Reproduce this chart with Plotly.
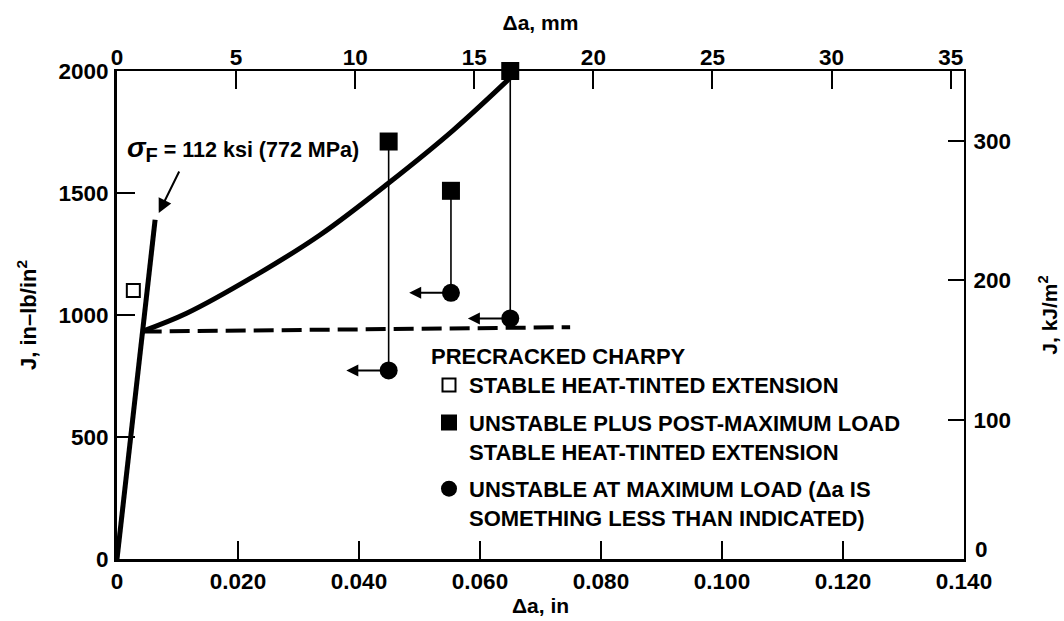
import plotly.graph_objects as go

# ---------------- data (inches, in-lb/in^2) ----------------
elastic_x = [0.0, 0.0063]
elastic_j = [0, 1390]

curve_x = [0.00408, 0.01152, 0.02253, 0.03355, 0.04485, 0.0556, 0.0655]
curve_j = [932, 1007, 1157, 1328, 1540, 1758, 1984]

dash_x = [0.00408, 0.0749]
dash_j = [932, 950]

open_sq_x = [0.0027]
open_sq_j = [1100]

spec_x = [0.0449, 0.0552, 0.0650]
filled_sq_j = [1711, 1509, 2000]
circle_j = [773, 1091, 986]
arrow_tip_x = [0.0379, 0.0483, 0.0580]

x_ticks = [0, 0.02, 0.04, 0.06, 0.08, 0.10, 0.12, 0.14]
x_ticktext = ["0", "0.020", "0.040", "0.060", "0.080", "0.100", "0.120", "0.140"]
y_ticks = [0, 500, 1000, 1500, 2000]
mm_ticks = [0, 5, 10, 15, 20, 25, 30, 35]
kj_ticks = [100, 200, 300]       # the "0" label of this axis sits raised at the corner
kj_zero_label = "0"

IN_TO_MM_AXIS = 254.0          # top axis scale factor
J_TO_KJ = 0.175127             # in-lb/in^2 -> kJ/m^2

sigma_tail = (0.0104, 1594)
sigma_tip = (0.0069, 1418)

FONT = "Liberation Sans, Arial, Helvetica, sans-serif"
BLACK = "#000000"
TICKFONT = dict(family=FONT, size=22.5, color=BLACK, weight="bold")
TITLEFONT = dict(family=FONT, size=21, color=BLACK, weight="bold")

fig = go.Figure()

# dashed line
fig.add_trace(go.Scatter(x=dash_x, y=dash_j, mode="lines",
                         line=dict(color=BLACK, width=4, dash="20px,8px"),
                         showlegend=False, hoverinfo="skip"))
# elastic line
fig.add_trace(go.Scatter(x=elastic_x, y=elastic_j, mode="lines",
                         line=dict(color=BLACK, width=5),
                         showlegend=False, hoverinfo="skip"))
# R-curve
fig.add_trace(go.Scatter(x=curve_x, y=curve_j, mode="lines",
                         line=dict(color=BLACK, width=5, shape="spline", smoothing=1.0),
                         showlegend=False, hoverinfo="skip"))
# vertical connectors
vx, vy = [], []
for x, a, b in zip(spec_x, filled_sq_j, circle_j):
    vx += [x, x, None]
    vy += [a, b, None]
fig.add_trace(go.Scatter(x=vx, y=vy, mode="lines",
                         line=dict(color=BLACK, width=1.6),
                         showlegend=False, hoverinfo="skip", cliponaxis=False))

# markers
fig.add_trace(go.Scatter(x=open_sq_x, y=open_sq_j, mode="markers",
                         name="STABLE HEAT-TINTED EXTENSION",
                         marker=dict(symbol="square-open", size=13, color=BLACK,
                                     line=dict(width=2, color=BLACK)),
                         legendgroup="a", cliponaxis=False))
fig.add_trace(go.Scatter(x=spec_x, y=filled_sq_j, mode="markers",
                         name="UNSTABLE PLUS POST-MAXIMUM LOAD<br>STABLE HEAT-TINTED EXTENSION",
                         marker=dict(symbol="square", size=18, color=BLACK),
                         legendgroup="b", cliponaxis=False))
fig.add_trace(go.Scatter(x=spec_x, y=circle_j, mode="markers",
                         name="UNSTABLE AT MAXIMUM LOAD (\u0394a IS<br>SOMETHING LESS THAN INDICATED)",
                         marker=dict(symbol="circle", size=18, color=BLACK),
                         legendgroup="c", cliponaxis=False))

# same specimens in secondary units (invisible) so the top/right axes render
fig.add_trace(go.Scatter(x=[v * IN_TO_MM_AXIS for v in spec_x],
                         y=[v * J_TO_KJ for v in filled_sq_j],
                         xaxis="x2", yaxis="y2", mode="markers",
                         marker=dict(size=1, opacity=0), showlegend=False, hoverinfo="skip"))

annotations = []
# left-pointing arrows from circles
for x, j, tip in zip(spec_x, circle_j, arrow_tip_x):
    annotations.append(dict(x=tip, y=j, ax=x, ay=j, xref="x", yref="y",
                            axref="x", ayref="y", text="", showarrow=True,
                            arrowhead=2, arrowsize=1.2, arrowwidth=2,
                            arrowcolor=BLACK, standoff=0, startstandoff=0))
# sigma arrow
annotations.append(dict(x=sigma_tip[0], y=sigma_tip[1], ax=sigma_tail[0], ay=sigma_tail[1],
                        xref="x", yref="y", axref="x", ayref="y", text="",
                        showarrow=True, arrowhead=2, arrowsize=1.4, arrowwidth=2,
                        arrowcolor=BLACK, standoff=0))
annotations.append(dict(x=0.0013, y=1680, xref="x", yref="y", xanchor="left", yanchor="middle",
                        text="<span style='font-size:28px'><i>\u03c3</i></span>"
                             "<sub><span style='font-size:20px'>F</span></sub> = 112 ksi (772 MPa)",
                        showarrow=False, font=dict(family=FONT, size=21.5, color=BLACK, weight="bold")))
# raised zero label of the right-hand axis
annotations.append(dict(x=1, y=0, xref="paper", yref="y2", xanchor="left", yanchor="bottom",
                        xshift=9, yshift=-5, text=kj_zero_label, showarrow=False,
                        font=TICKFONT))

axis_common = dict(showgrid=False, zeroline=False, showline=True, linecolor=BLACK,
                   ticks="inside", tickwidth=2, tickcolor=BLACK, automargin=False,
                   tickfont=TICKFONT)

fig.update_layout(
    width=1064, height=621,
    margin=dict(l=117, r=100, t=71, b=62, autoexpand=False),
    paper_bgcolor="white", plot_bgcolor="white",
    font=dict(family=FONT, size=22, color=BLACK, weight="bold"),
    showlegend=True,
    legend=dict(x=(429 - 117) / 847, y=0.458, xanchor="left", yanchor="top",
                bgcolor="rgba(0,0,0,0)", valign="top", tracegroupgap=6,
                itemwidth=30,
                font=dict(family=FONT, size=22, color=BLACK, weight="bold"),
                title=dict(text="PRECRACKED CHARPY",
                           font=dict(family=FONT, size=22, color=BLACK, weight="bold"))),
    xaxis=dict(range=[0, 0.14], tickvals=x_ticks, ticktext=x_ticktext,
               linewidth=3, ticklen=18, ticklabelstandoff=0,
               title=dict(text="\u0394a, in", standoff=6, font=TITLEFONT), **axis_common),
    xaxis2=dict(range=[0, 0.14 * IN_TO_MM_AXIS], tickvals=mm_ticks, overlaying="x", side="top",
                anchor="y", linewidth=2, ticklen=18, ticklabelstandoff=-5,
                title=dict(text="\u0394a, mm", standoff=9, font=TITLEFONT), **axis_common),
    yaxis=dict(range=[0, 2000], tickvals=y_ticks,
               linewidth=3, ticklen=18, ticklabelstandoff=1,
               title=dict(text="J, in\u2013lb/in<sup>2</sup>", standoff=16,
                          font=dict(family=FONT, size=22, color=BLACK, weight="bold")),
               **axis_common),
    yaxis2=dict(range=[0, 2000 * J_TO_KJ], tickvals=kj_ticks, overlaying="y", side="right",
                anchor="x", linewidth=2, ticklen=16, ticklabelstandoff=3,
                title=dict(text="J, kJ/m<sup>2</sup>", standoff=32, font=TITLEFONT),
                **axis_common),
    annotations=annotations,
)

fig.write_html("out.html")
